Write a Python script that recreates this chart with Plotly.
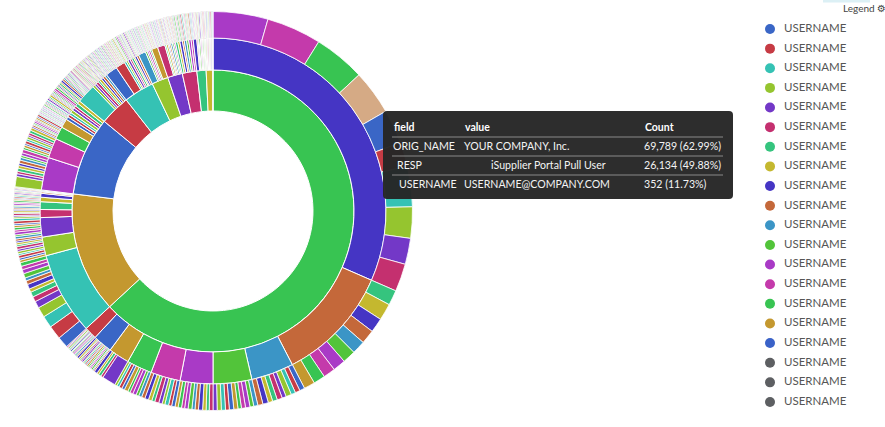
import plotly.graph_objects as go

# ---------------- data ----------------
# colour scheme (ordinal, cycles)
palette = ["#3a66c6", "#c63b44", "#35c2b4", "#95c52f", "#7338c7", "#c4306f",
           "#35c47e", "#c4b82f", "#4535c4", "#c4683a", "#3b95c6", "#52c43a",
           "#a93ac6", "#c43aab", "#38c452", "#c4982f"]
TAN = "#d5aa85"

orig_names = ["YOUR COMPANY, Inc.", "ORG 2", "ORG 3", "ORG 4", "ORG 5", "ORG 6",
              "ORG 7", "ORG 8", "ORG 9", "ORG 10", "ORG 11"]

# USERNAME counts, grouped by RESP, grouped by ORIG_NAME
users_A = [
    [160, 160, 150, 130, 100, 70, 118, 91, 76, 81],
    [44, 49, 42, 41, 39, 38, 37, 35, 34, 32],
    [15, 14, 13, 16, 12, 15, 14, 13, 16, 15],
    [12, 11, 13, 12, 10, 12, 13, 11, 12, 12, 12],
    [11, 9, 10, 12, 10, 9, 11, 10, 9, 10, 9],
    [10, 9, 11, 8, 10, 12, 9, 10, 11, 10],
    [9, 8, 10, 9, 7, 11, 8, 9, 7, 7],
    [40, 7, 8, 6, 9],
    [4, 3, 5, 4, 3, 4, 5, 3, 4, 4, 3, 5, 4, 3, 5, 6],
    [3, 4, 3, 3, 4, 3, 2, 4, 3, 3, 4, 3, 3],
]
users_B = [
    [33, 40, 35, 30, 20, 15, 15, 10, 14, 11, 9, 13, 12, 10, 11],
    [7, 6, 8, 5, 7, 6, 8, 5, 6, 5],
    [6, 7, 5, 8, 6, 7, 6, 5, 8, 7],
    [5, 4, 6, 3, 5, 4],
    [4, 5, 3, 5, 4, 5],
    [4, 3, 4, 4],
    [3, 4, 3, 3],
    [2, 3],
    [3],
    [1, 2],
]
users_C = [
    [30, 8, 7, 9, 8, 7, 9, 8, 6, 8, 10],
    [6, 7, 5, 8, 6, 7, 5, 7, 8, 8],
    [4, 5, 3, 4, 5, 4, 3, 5, 4, 6],
    [3, 2, 3, 2, 3, 2, 3, 2, 3, 2, 3, 2],
    [4, 3, 3], [3, 4, 2], [5, 3], [4, 6], [3, 3, 3], [4, 4], [6, 5], [3, 4, 3],
]
users_D = [
    [5, 4, 6, 5, 4, 3, 3, 2, 3, 2, 3, 2, 3, 2, 3, 3, 2, 3, 2, 3, 2],
    [3, 2, 3], [2, 3, 2], [3, 3, 3], [2, 2, 2], [3, 3, 2], [2, 2, 3], [2, 3, 3], [3, 2, 2],
]
users_E = [
    [2, 3, 2, 3, 2, 3, 2, 3, 2, 3, 2, 3, 2, 3, 2, 3],
    [3, 2, 3, 2, 3, 2, 3, 2, 3, 2, 3, 2, 2],
    [3, 4], [2, 2, 2], [4, 4], [3, 3], [2, 3, 2], [2, 3], [4, 3], [3, 2, 2],
]
users_F = [
    [2, 3, 2, 3, 2, 3, 2, 3, 2, 3],
    [3, 3], [2, 3], [2, 2, 2], [3, 2],
    [2, 3, 2, 3, 2, 3, 2, 2, 2],
]
users_G = [
    [3, 2, 3, 2, 3, 2, 3, 2, 3, 2],
    [2, 3], [3, 3], [2, 2], [3, 2], [2, 2, 2], [3, 2], [2, 3],
]
users_H = [[3, 2, 3], [3, 4], [2, 3, 4], [3, 3], [4, 4], [2, 2, 3], [3, 3, 2], [4, 3]]
users_I = [[3, 2, 3, 2, 2], [2, 2], [3], [2, 3], [4], [1, 2], [2, 2], [3]]
users_J = [[3], [2, 2], [3], [2, 2], [3], [3], [4], [3]]
users_K = [[1]]

groups = [users_A, users_B, users_C, users_D, users_E, users_F,
          users_G, users_H, users_I, users_J, users_K]

# colour offsets into the ordinal scheme, per ORIG_NAME
inner_start = 14
middle_start = [8, 2, 12, 2, 0, 10, 5, 6, 8, 2, 0]
outer_start = [12, 0, 3, 6, 9, 1, 4, 7, 10, 13, 0]

legend_labels = ["USERNAME"] * 20
legend_colors = palette + ["#3a62c8", "#5d5f62", "#5d5f62", "#5d5f62"]

tip_header = ["field", "value", "Count"]
tip_fields = ["ORIG_NAME", "RESP", "USERNAME"]
tip_values = ["YOUR COMPANY, Inc.", "iSupplier Portal Pull User", "USERNAME@COMPANY.COM"]
tip_counts = [69789, 26134, 352]
tip_pcts = [62.99, 49.88, 11.73]

# ---------------- derived hierarchy ----------------
inner_values, middle_values, outer_values = [], [], []
inner_colors, middle_colors, outer_colors = [], [], []
for gi, g in enumerate(groups):
    resp_tot = [sum(r) for r in g]
    inner_values.append(sum(resp_tot))
    inner_colors.append(palette[(inner_start + gi) % 16])
    k = 0
    for ri, r in enumerate(g):
        middle_values.append(sum(r))
        middle_colors.append(palette[(middle_start[gi] + ri) % 16])
        for v in r:
            outer_values.append(v)
            outer_colors.append(palette[(outer_start[gi] + k) % 16])
            k += 1
outer_colors[3] = TAN

# ---------------- layout constants ----------------
W, H = 885, 427
CX, CY = 213, 211
R_HOLE, R1, R2, R3 = 100, 141, 173, 199.5


def ring(values, colors, r_out, r_in, lw, name):
    return go.Pie(
        values=values,
        labels=[f"{name}-{i}" for i in range(len(values))],
        marker=dict(colors=colors, line=dict(color="white", width=lw)),
        hole=r_in / r_out, sort=False, direction="clockwise", rotation=0,
        textinfo="none", hoverinfo="skip", showlegend=False,
        domain=dict(x=[(CX - r_out) / W, (CX + r_out) / W],
                    y=[(H - CY - r_out) / H, (H - CY + r_out) / H]),
    )


fig = go.Figure()
fig.add_trace(ring(inner_values, inner_colors, R1, R_HOLE, 1, "orig"))
fig.add_trace(ring(middle_values, middle_colors, R2, R1, 1, "resp"))
fig.add_trace(ring(outer_values, outer_colors, R3, R2, 0.8, "user"))

# legend (custom, on a pixel canvas)
ly = [29 + 19.63 * i for i in range(len(legend_labels))]
fig.add_trace(go.Scatter(x=[770] * len(ly), y=ly, mode="markers",
                         marker=dict(size=10, color=legend_colors),
                         hoverinfo="skip", showlegend=False))
fig.add_trace(go.Scatter(x=[784] * len(ly), y=ly, mode="text", text=legend_labels,
                         textposition="middle right",
                         textfont=dict(family="Lato", size=11.5, color="#555555"),
                         hoverinfo="skip", showlegend=False))

shapes = []
# tooltip box
x0, x1, y0, y1, rr = 383, 733, 111, 199, 4
path = (f"M {x0+rr},{y0} L {x1-rr},{y0} Q {x1},{y0} {x1},{y0+rr} L {x1},{y1-rr} "
        f"Q {x1},{y1} {x1-rr},{y1} L {x0+rr},{y1} Q {x0},{y1} {x0},{y1-rr} "
        f"L {x0},{y0+rr} Q {x0},{y0} {x0+rr},{y0} Z")
shapes.append(dict(type="path", path=path, xref="x", yref="y", layer="above",
                   fillcolor="rgba(38,38,38,0.97)", line=dict(width=0)))
for ys in [137, 156, 175]:
    shapes.append(dict(type="line", xref="x", yref="y", x0=392, x1=723, y0=ys, y1=ys,
                       layer="above", line=dict(color="#8a8a8a", width=1)))
shapes.append(dict(type="rect", xref="x", yref="y", x0=823, x1=870, y0=0, y1=2.5,
                   layer="above", fillcolor="#dcf0f5", line=dict(width=0)))

ann = []
hdr_x = [392, 463, 643]
for t, xx in zip(tip_header, hdr_x):
    ann.append(dict(x=xx, y=127, xref="x", yref="y", text=f"<b>{t}</b>", showarrow=False,
                    xanchor="left", yanchor="middle",
                    font=dict(family="Lato", size=10.5, color="#ffffff")))
row_y = [146, 165, 184]
field_x = [391, 395, 397]
value_x = [462, 489, 462]
for i in range(3):
    f = dict(family="Lato", size=10.6, color="#f4f4f4")
    ann.append(dict(x=field_x[i], y=row_y[i], xref="x", yref="y", text=tip_fields[i],
                    showarrow=False, xanchor="left", yanchor="middle", font=f))
    ann.append(dict(x=value_x[i], y=row_y[i], xref="x", yref="y", text=tip_values[i],
                    showarrow=False, xanchor="left", yanchor="middle", font=f))
    ann.append(dict(x=642, y=row_y[i], xref="x", yref="y",
                    text=f"{tip_counts[i]:,} ({tip_pcts[i]:.2f}%)",
                    showarrow=False, xanchor="left", yanchor="middle", font=f))
ann.append(dict(x=841, y=8, xref="x", yref="y", text="Legend", showarrow=False,
                xanchor="left", yanchor="middle",
                font=dict(family="Lato", size=10, color="#444444")))
ann.append(dict(x=875, y=8, xref="x", yref="y", text="⚙", showarrow=False,
                xanchor="left", yanchor="middle",
                font=dict(family="DejaVu Sans", size=10, color="#444444")))

fig.update_layout(
    width=W, height=H, margin=dict(l=0, r=0, t=0, b=0),
    paper_bgcolor="white", plot_bgcolor="white",
    xaxis=dict(range=[0, W], visible=False, fixedrange=True),
    yaxis=dict(range=[H, 0], visible=False, fixedrange=True),
    shapes=shapes, annotations=ann, showlegend=False,
)

fig.write_html("out.html", config={"displayModeBar": False},
               post_script="document.body.style.margin='0';document.body.style.overflow='hidden';")
